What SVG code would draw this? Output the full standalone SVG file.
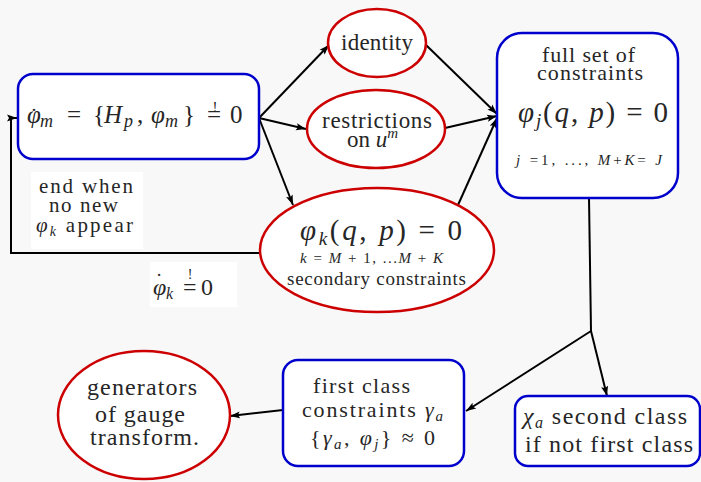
<svg xmlns="http://www.w3.org/2000/svg" width="701" height="482" viewBox="0 0 701 482" font-family="'Liberation Serif', 'DejaVu Serif', serif">
<defs>
<marker id="ah" viewBox="0 0 10 10" refX="10" refY="5" markerWidth="10" markerHeight="10" markerUnits="userSpaceOnUse" orient="auto">
<path d="M0,1.5 L10,5 L0,8.5 L2,5 z" fill="#000"/>
</marker>
<style>
text{fill:#262626}
.i{font-style:italic}
.box{fill:#fff;stroke:#0000cc;stroke-width:2.5}
.ell{fill:#fff;stroke:#cc0000;stroke-width:2.5}
.c{fill:none;stroke:#000;stroke-width:2}
.a{marker-end:url(#ah)}
.lab{fill:#fff}
</style>
</defs>
<rect width="701" height="482" fill="#f8f8f8"/>
<g id="connectors">
<line class="c a" x1="259" y1="118" x2="329" y2="45"/>
<line class="c a" x1="259" y1="118" x2="306" y2="129"/>
<line class="c a" x1="259" y1="118" x2="293" y2="205"/>
<line class="c a" x1="426" y1="45" x2="497" y2="114"/>
<line class="c a" x1="445" y1="128" x2="497" y2="116"/>
<line class="c a" x1="458" y1="205" x2="497" y2="118"/>
<polyline class="c" points="589,198 591,331"/>
<line class="c a" x1="591" y1="331" x2="466" y2="411"/>
<line class="c a" x1="591" y1="331" x2="607" y2="396"/>
<line class="c a" x1="283" y1="410" x2="230" y2="416"/>
<polyline class="c a" points="262,253 11,253 11,118 17,118"/>
</g>
<g id="label-end">
<rect class="lab" x="31" y="172" width="112" height="77"/>
<text x="39" y="193" font-size="21" textLength="94">end when</text>
<text x="49" y="212" font-size="21" textLength="69">no new</text>
<text x="36" y="232" font-size="21" textLength="97"><tspan class="i">φ</tspan><tspan class="i" font-size="14" dy="4">k</tspan><tspan dy="-4"> appear</tspan></text>
</g>
<g id="label-phik">
<rect class="lab" x="150" y="262" width="87" height="45"/>
<text y="295" font-size="24"><tspan class="i" x="153">φ</tspan><tspan class="i" font-size="16" x="166" dy="4">k</tspan><tspan x="183" dy="-4">=</tspan><tspan x="201">0</tspan></text>
<text x="159" y="288" font-size="20" text-anchor="middle">˙</text>
<text x="190" y="279" font-size="14" text-anchor="middle">!</text>
</g>
<g id="node-phim">
<rect class="box" x="18" y="74" width="241" height="85" rx="15"/>
<text y="123" font-size="25"><tspan class="i" x="27">φ</tspan><tspan class="i" font-size="18" x="40" dy="4">m</tspan><tspan x="67" dy="-4">=</tspan><tspan x="93">{</tspan><tspan class="i" x="104">H</tspan><tspan class="i" font-size="18" x="124" dy="4">p</tspan><tspan x="137" dy="-4">,</tspan><tspan class="i" x="151">φ</tspan><tspan class="i" font-size="18" x="165" dy="4">m</tspan><tspan x="183" dy="-4">}</tspan><tspan x="207">=</tspan><tspan x="230">0</tspan></text>
<text x="34" y="123" font-size="22" text-anchor="middle">˙</text>
<text x="215" y="112" font-size="15" text-anchor="middle">!</text>
</g>
<g id="node-identity">
<ellipse class="ell" cx="377" cy="43" rx="49" ry="34"/>
<text x="341" y="50" font-size="23" textLength="72">identity</text>
</g>
<g id="node-restrictions">
<ellipse class="ell" cx="376" cy="129" rx="69" ry="39"/>
<text x="322" y="128" font-size="23" textLength="110">restrictions</text>
<text x="347" y="147" font-size="23">on <tspan class="i">u</tspan><tspan class="i" font-size="15" dy="-9">m</tspan></text>
</g>
<g id="node-fullset">
<rect class="box" x="497" y="33" width="181" height="165" rx="25"/>
<text x="542" y="62" font-size="22" textLength="93">full set of</text>
<text x="537" y="80" font-size="22" textLength="106">constraints</text>
<text x="518" y="122" font-size="29" textLength="150"><tspan class="i">φ</tspan><tspan class="i" font-size="19" dy="5">j</tspan><tspan dy="-5">(</tspan><tspan class="i">q</tspan><tspan>, </tspan><tspan class="i">p</tspan><tspan>) = 0</tspan></text>
<text x="516" y="165" font-size="15" textLength="146"><tspan class="i">j</tspan> =1, ..., <tspan class="i">M</tspan>+<tspan class="i">K</tspan>= <tspan class="i">J</tspan></text>
</g>
<g id="node-secondary">
<ellipse class="ell" cx="377" cy="250" rx="117" ry="62"/>
<text x="300" y="240" font-size="29" textLength="162"><tspan class="i">φ</tspan><tspan class="i" font-size="19" dy="5">k</tspan><tspan dy="-5">(</tspan><tspan class="i">q</tspan><tspan>, </tspan><tspan class="i">p</tspan><tspan>) = 0</tspan></text>
<text x="300" y="263" font-size="15" textLength="143"><tspan class="i">k</tspan> = <tspan class="i">M</tspan> + 1, ...<tspan class="i">M</tspan> + <tspan class="i">K</tspan></text>
<text x="287" y="285" font-size="19" textLength="179">secondary constraints</text>
</g>
<g id="node-firstclass">
<rect class="box" x="283" y="360" width="181" height="106" rx="15"/>
<text x="313" y="393" font-size="22" textLength="97">first class</text>
<text x="302" y="417" font-size="22" textLength="141">constraints <tspan class="i">γ</tspan><tspan class="i" font-size="15" dy="4">a</tspan></text>
<text x="310" y="445" font-size="22" textLength="125">{<tspan class="i">γ</tspan><tspan class="i" font-size="15" dy="4">a</tspan><tspan dy="-4">, </tspan><tspan class="i">φ</tspan><tspan class="i" font-size="15" dy="4">j</tspan><tspan dy="-4">} ≈ 0</tspan></text>
</g>
<g id="node-secondclass">
<rect class="box" x="515" y="396" width="185" height="70" rx="13"/>
<text x="523" y="424" font-size="24" textLength="164"><tspan class="i">χ</tspan><tspan class="i" font-size="16" dy="4">a</tspan><tspan dy="-4"> second class</tspan></text>
<text x="525" y="452" font-size="24" textLength="168">if not first class</text>
</g>
<g id="node-generators">
<ellipse class="ell" cx="144" cy="415" rx="86" ry="64"/>
<text x="87" y="395" font-size="24" textLength="110">generators</text>
<text x="95" y="422" font-size="24" textLength="90">of gauge</text>
<text x="90" y="445" font-size="24" textLength="109">transform.</text>
</g>
</svg>
